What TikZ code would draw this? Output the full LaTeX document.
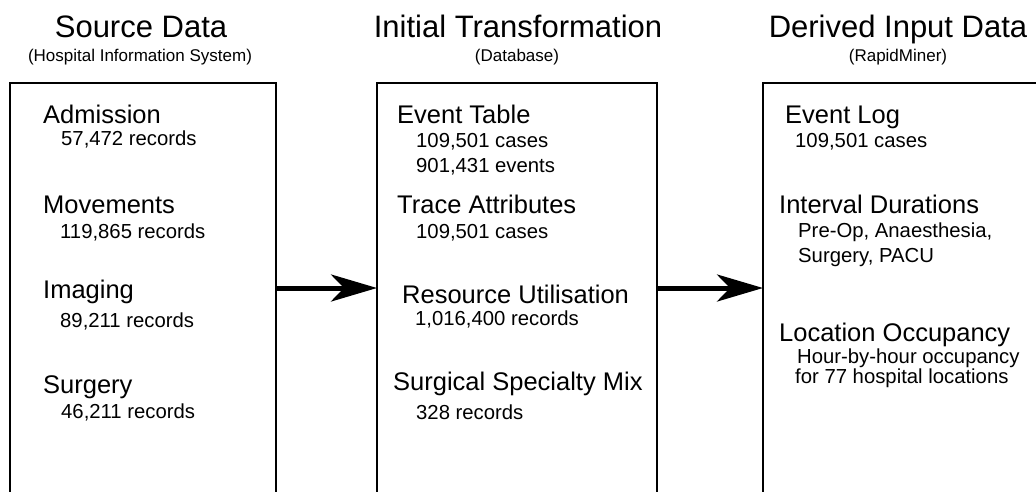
\documentclass[tikz,border=0pt]{standalone}
\usepackage{fontspec}
\setmainfont{Liberation Sans}
\usetikzlibrary{arrows.meta}
\begin{document}
\begin{tikzpicture}[x=1pt,y=-1pt,
  ttl/.style={inner sep=0pt,anchor=base,font=\fontsize{31}{34}\selectfont},
  subttl/.style={inner sep=0pt,anchor=base,font=\fontsize{17}{20}\selectfont},
  item/.style={inner sep=0pt,anchor=base west,font=\fontsize{25.5}{28}\selectfont},
  detail/.style={inner sep=0pt,anchor=base west,font=\fontsize{20.3}{23}\selectfont},
  panel/.style={draw=none,inner sep=0pt,outer sep=0pt},
  border/.style={line width=2.2pt,line cap=rect},
  bigarrow/.style={line width=5pt,-{Stealth[length=46pt,width=27pt,inset=13pt]}}]
\useasboundingbox (0,0) rectangle (1036,491);
% panels
\node[panel,minimum width=266pt,minimum height=420pt,anchor=north west] (L) at (10,83) {};
\node[panel,minimum width=280pt,minimum height=420pt,anchor=north west] (M) at (377,83) {};
\node[panel,minimum width=290pt,minimum height=420pt,anchor=north west] (R) at (763,83) {};
\draw[border] (L.south west) |- (L.north east) -- (L.south east);
\draw[border] (M.south west) |- (M.north east) -- (M.south east);
\draw[border] (R.south west) |- (R.north east);
% arrows
\coordinate (ay) at (0,288);
\draw[bigarrow] (L.east |- ay) -- (M.west |- ay);
\draw[bigarrow] (M.east |- ay) -- (R.west |- ay);
% titles
\node[ttl] (t1) at (141,37) {Source Data};
\node[subttl] (s1) at (140,61) {(Hospital Information System)};
\node[ttl] (t2) at (518,37) {Initial Transformation};
\node[subttl] (s2) at (517,61) {(Database)};
\node[ttl] (t3) at (898,37) {Derived Input Data};
\node[subttl] (s3) at (898,61) {(RapidMiner)};
% left
\node[item] (l1) at (43,123) {Admission};
\node[detail] (l1a) at (61,145) {57,472 records};
\node[item] (l2) at (43,213) {Movements};
\node[detail] (l2a) at (60,238) {119,865 records};
\node[item] (l3) at (43,298) {Imaging};
\node[detail] (l3a) at (60,327) {89,211 records};
\node[item] (l4) at (43,393) {Surgery};
\node[detail] (l4a) at (61,418) {46,211 records};
% middle
\node[item] (m1) at (397,123) {Event Table};
\node[detail] (m1a) at (416,147) {109,501 cases};
\node[detail] (m1b) at (416,172) {901,431 events};
\node[item] (m2) at (397,213) {Trace Attributes};
\node[detail] (m2a) at (416,238) {109,501 cases};
\node[item] (m3) at (402,303) {Resource Utilisation};
\node[detail] (m3a) at (415,325) {1,016,400 records};
\node[item] (m4) at (393,390) {Surgical Specialty Mix};
\node[detail] (m4a) at (416,419) {328 records};
% right
\node[item] (r1) at (785,123) {Event Log};
\node[detail] (r1a) at (795,147) {109,501 cases};
\node[item] (r2) at (779,213) {Interval Durations};
\node[detail] (r2a) at (798,237) {Pre-Op, Anaesthesia,};
\node[detail] (r2b) at (798,262) {Surgery, PACU};
\node[item] (r3) at (779,341) {Location Occupancy};
\node[detail] (r3a) at (797,363) {Hour-by-hour occupancy};
\node[detail] (r3b) at (795,383) {for 77 hospital locations};
\end{tikzpicture}
\end{document}
